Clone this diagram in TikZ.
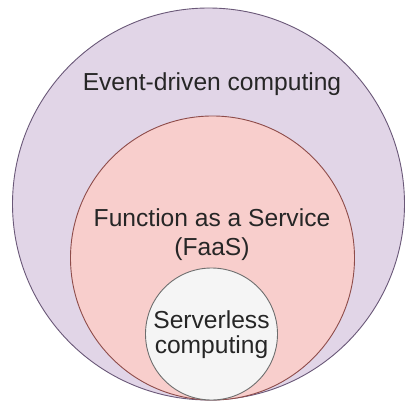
\documentclass[tikz,border=0pt]{standalone}
\usepackage{fontspec}
\setmainfont{Liberation Sans}
\definecolor{outerfill}{HTML}{E1D5E7}
\definecolor{outerdraw}{HTML}{6A5878}
\definecolor{midfill}{HTML}{F8CECC}
\definecolor{middraw}{HTML}{8E4C4A}
\definecolor{innerfill}{HTML}{F5F5F5}
\definecolor{innerdraw}{HTML}{6E6E6E}
\tikzset{
  ring/.style={circle, line width=0.9pt, inner sep=0pt, outer sep=0pt},
  lbl/.style={font=\fontsize{24.6}{29}\selectfont, text=black!85, align=center, anchor=base, inner sep=0pt}
}
\begin{document}
\begin{tikzpicture}[x=1pt,y=-1pt]
  \useasboundingbox (0,0) rectangle (405,404);
  \fill[white] (0,0) rectangle (405,404);
  \node[ring, fill=outerfill, draw=outerdraw, minimum size=392pt] (outer) at (208.5,204) {};
  \node[ring, fill=midfill, draw=middraw, minimum size=284pt] (mid) at (212.5,258) {};
  \node[ring, fill=innerfill, draw=innerdraw, minimum size=132pt] (inner) at (211.5,334) {};
  \node[lbl] (evt) at (212,90.5) {Event-driven computing};
  \node[lbl, font=\fontsize{24.6}{29}\selectfont] (faas) at (212,255.5) {Function as a Service\\(FaaS)};
  \node[lbl, font=\fontsize{24.6}{25}\selectfont] (srv) at (211.5,353) {Serverless\\computing};
\end{tikzpicture}
\end{document}
